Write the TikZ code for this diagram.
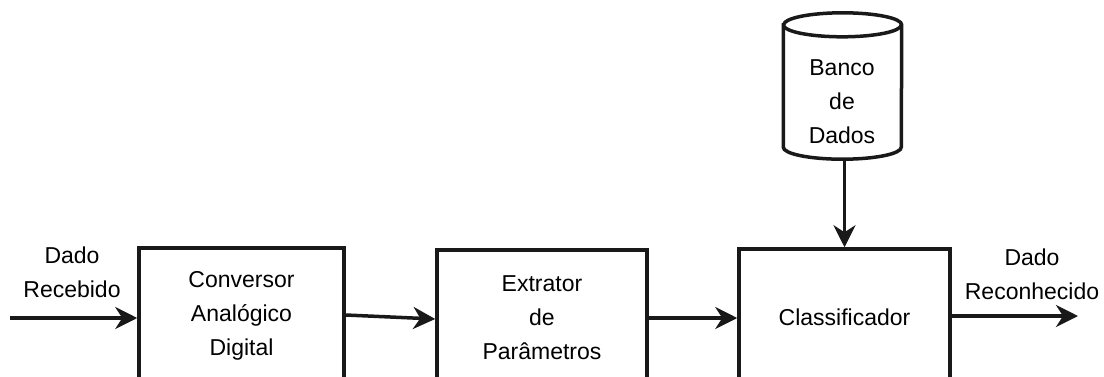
\documentclass[tikz,border=0pt]{standalone}
\usepackage{fontspec}
\setmainfont{Liberation Sans}
\usetikzlibrary{arrows.meta}
\begin{document}
\begin{tikzpicture}[x=1pt,y=-1pt,
  every node/.style={font=\fontsize{23}{34}\selectfont, align=center, inner sep=0pt},
  blk/.style={draw=black!90, line width=3.5pt, minimum width=205pt, minimum height=136pt},
  conn/.style={draw=black!90, line width=3.5pt, -{Stealth[length=22pt,width=22pt,inset=7pt]}}]
\useasboundingbox (0,0) rectangle (1104,376);
\clip (0,0) rectangle (1104,376);
% blocks
\node[blk] (a) at (241.5,316) {Conversor\\Analógico\\Digital};
\node[blk, minimum width=210pt] (b) at (542,318) {Extrator\\de\\Parâmetros};
\node[blk, minimum width=211pt] (c) at (844.5,317) {Classificador};
% database cylinder
\node[minimum width=118pt, minimum height=146pt] (db) at (842.5,86) {};
\draw[draw=black!90, line width=3.5pt] ([yshift=-12pt]db.north west) -- ([yshift=12pt]db.south west)
  arc[start angle=180, end angle=360, x radius=59pt, y radius=12pt]
  -- ([yshift=-12pt]db.north east)
  arc[start angle=0, end angle=180, x radius=59pt, y radius=12pt] -- cycle;
\draw[draw=black!90, line width=3.5pt] ([yshift=-12pt]db.north west)
  arc[start angle=180, end angle=360, x radius=59pt, y radius=12pt];
\node (dbt) at (842,102) {Banco\\de\\Dados};
% labels
\node (in) at (72,272) {Dado\\Recebido};
\node (out) at (1032,274) {Dado\\Reconhecido};
\coordinate (s) at (10,318);
\coordinate (e) at (1078,316);
% connectors
\draw[conn] (s) -- (s -| a.west);
\draw[conn] ([yshift=1pt]a.east) -- ([yshift=-1pt]b.west);
\draw[conn] (b.east) -- (b.east -| c.west);
\draw[conn] (c.east |- e) -- (e);
\draw[conn] ([yshift=-2pt]db.south -| c.north) -- (c.north);
\end{tikzpicture}
\end{document}
